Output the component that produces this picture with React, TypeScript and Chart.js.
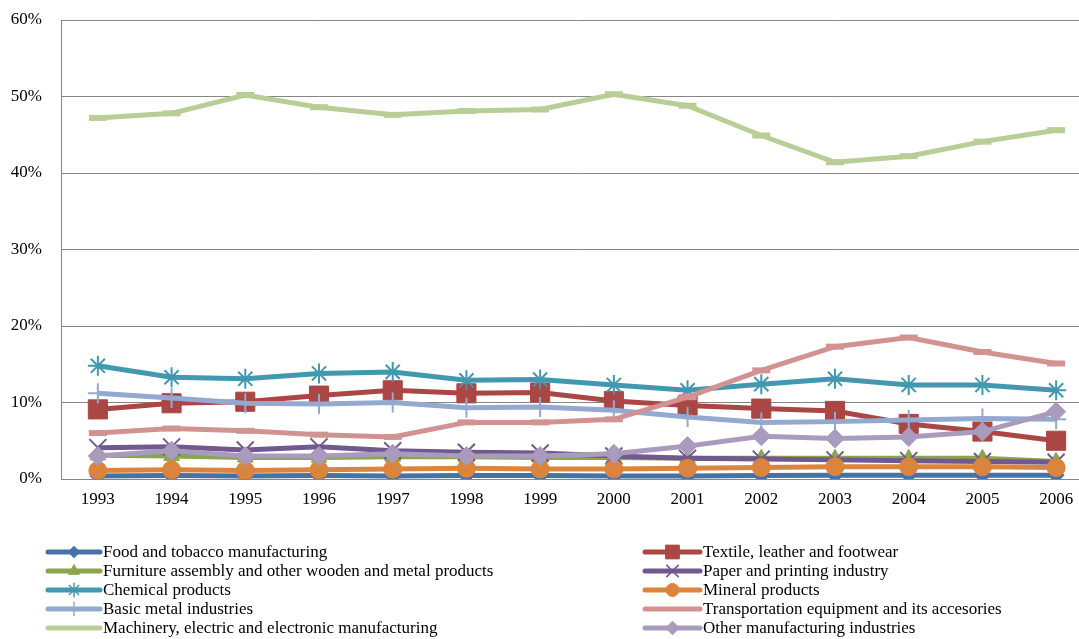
import React, { useEffect, useRef } from 'react';
import { Chart, registerables } from 'chart.js';
import { drawPoint } from 'chart.js/helpers';

Chart.register(...registerables);

const FONT = "'Liberation Serif', 'Times New Roman', Times, serif";

const years = ['1993', '1994', '1995', '1996', '1997', '1998', '1999', '2000', '2001', '2002', '2003', '2004', '2005', '2006'];

const food = [0.4, 0.45, 0.4, 0.45, 0.4, 0.45, 0.45, 0.4, 0.4, 0.45, 0.5, 0.5, 0.5, 0.5];
const textile = [9.1, 9.9, 10.1, 10.9, 11.6, 11.2, 11.3, 10.2, 9.6, 9.2, 8.9, 7.2, 6.2, 5.0];
const furniture = [3.1, 3.0, 2.8, 2.8, 2.9, 2.9, 2.8, 2.8, 2.7, 2.7, 2.7, 2.7, 2.7, 2.3];
const paper = [4.1, 4.2, 3.8, 4.2, 3.7, 3.5, 3.4, 3.0, 2.7, 2.6, 2.5, 2.4, 2.3, 2.2];
const chemical = [14.8, 13.3, 13.1, 13.8, 14.0, 12.9, 13.0, 12.3, 11.6, 12.4, 13.1, 12.3, 12.3, 11.6];
const mineral = [1.1, 1.2, 1.1, 1.2, 1.3, 1.4, 1.3, 1.3, 1.4, 1.5, 1.6, 1.6, 1.6, 1.5];
const basicMetal = [11.2, 10.6, 9.9, 9.8, 10.0, 9.3, 9.4, 9.0, 8.1, 7.4, 7.5, 7.7, 7.9, 7.8];
const transport = [6.0, 6.6, 6.3, 5.8, 5.5, 7.4, 7.4, 7.8, 10.7, 14.2, 17.3, 18.5, 16.6, 15.1];
const machinery = [47.2, 47.8, 50.2, 48.6, 47.6, 48.1, 48.3, 50.3, 48.8, 44.9, 41.4, 42.2, 44.1, 45.6];
const other = [3.0, 3.7, 3.0, 3.0, 3.3, 3.0, 3.0, 3.3, 4.3, 5.6, 5.3, 5.5, 6.2, 8.8];

const seriesNames = [
  'Food and tobacco manufacturing',
  'Textile, leather and footwear',
  'Furniture assembly and other wooden and metal products',
  'Paper and printing industry',
  'Chemical products',
  'Mineral products',
  'Basic metal industries',
  'Transportation equipment and its accesories',
  'Machinery, electric and electronic manufacturing',
  'Other manufacturing industries',
];
const seriesData = [food, textile, furniture, paper, chemical, mineral, basicMetal, transport, machinery, other];

const colors = ['#4572A7', '#AA4643', '#89A54E', '#71588F', '#4198AF', '#DB843D', '#93A9CF', '#D19392', '#B9CD96', '#A99BBD'];
const pointStyles = ['rectRot', 'rect', 'triangle', 'crossRot', 'star', 'circle', 'cross', 'line', 'line', 'rectRot'];
const pointRadii = [8, 13.5, 9, 12, 10, 9, 10, 9, 9, 9.5];
const pointBorders = [1, 1, 1, 2, 2, 1, 2, 6, 6, 1];

const yTicks = [0, 10, 20, 30, 40, 50, 60];

const legendPlugin = {
  id: 'twoColumnLegend',
  afterDraw(chart: any) {
    const ctx = chart.ctx;
    ctx.save();
    chart.data.datasets.forEach((ds: any, i: number) => {
      const col = i % 2;
      const row = Math.floor(i / 2);
      const x0 = col === 0 ? 48 : 645;
      const x1 = col === 0 ? 100 : 700;
      const y = 552 + row * 19;
      ctx.strokeStyle = ds.borderColor;
      ctx.lineWidth = 5;
      ctx.lineCap = 'round';
      ctx.beginPath();
      ctx.moveTo(x0, y);
      ctx.lineTo(x1, y);
      ctx.stroke();
      const style = pointStyles[i];
      if (style !== 'line') {
        ctx.lineCap = 'butt';
        ctx.fillStyle = ds.borderColor;
        ctx.strokeStyle = ds.borderColor;
        ctx.lineWidth = pointBorders[i] > 1 ? 1.5 : 1;
        drawPoint(ctx, { pointStyle: style, rotation: 0, radius: pointRadii[i] * 0.72, borderWidth: ctx.lineWidth }, (x0 + x1) / 2, y);
      }
      ctx.fillStyle = '#000';
      ctx.font = `17px ${FONT}`;
      ctx.textBaseline = 'middle';
      ctx.textAlign = 'left';
      ctx.fillText(seriesNames[i], x1 + 3, y + 1);
    });
    ctx.restore();
  },
};

export default function App() {
  const canvasRef = useRef<HTMLCanvasElement | null>(null);

  useEffect(() => {
    if (!canvasRef.current) return;
    const chart = new Chart(canvasRef.current, {
      type: 'line',
      data: {
        labels: years,
        datasets: seriesData.map((d, i) => ({
          label: seriesNames[i],
          data: d,
          borderColor: colors[i],
          backgroundColor: colors[i],
          borderWidth: 5,
          pointStyle: pointStyles[i] as any,
          pointRadius: pointRadii[i],
          pointBorderWidth: pointBorders[i],
          pointBackgroundColor: colors[i],
          pointBorderColor: colors[i],
          tension: 0,
          fill: false,
          order: -i,
        })),
      },
      options: {
        animation: false,
        responsive: true,
        maintainAspectRatio: false,
        layout: { padding: { left: 0, right: 7, top: 20, bottom: 120 } },
        plugins: {
          legend: { display: false },
          tooltip: { enabled: false },
        },
        scales: {
          x: {
            type: 'category',
            offset: true,
            grid: { display: false, drawTicks: false },
            border: { display: true, color: '#868686', width: 1 },
            ticks: { color: '#000', font: { family: FONT, size: 17 }, padding: 10, maxRotation: 0, autoSkip: false },
            afterFit(scale: any) {
              scale.height = 40;
              scale.paddingLeft = 0;
              scale.paddingRight = 0;
            },
          },
          y: {
            min: 0,
            max: 60,
            afterBuildTicks(scale: any) { scale.ticks = yTicks.map((v) => ({ value: v })); },
            grid: { color: '#868686', lineWidth: 1, drawTicks: false },
            border: { display: true, color: '#868686', width: 1 },
            ticks: {
              color: '#000',
              font: { family: FONT, size: 17 },
              padding: 19,
              callback: (v: any) => `${v}%`,
            },
            afterFit(scale: any) {
              scale.width = 61;
              scale.paddingTop = 0;
              scale.paddingBottom = 0;
            },
          },
        },
      },
      plugins: [legendPlugin],
    });
    return () => chart.destroy();
  }, []);

  return (
    <div style={{ position: 'fixed', left: 0, top: 0, width: 1079, height: 639, overflow: 'hidden', background: '#fff' }}>
      <div style={{ position: 'relative', width: 1108, height: 639 }}>
        <canvas ref={canvasRef} />
      </div>
    </div>
  );
}
